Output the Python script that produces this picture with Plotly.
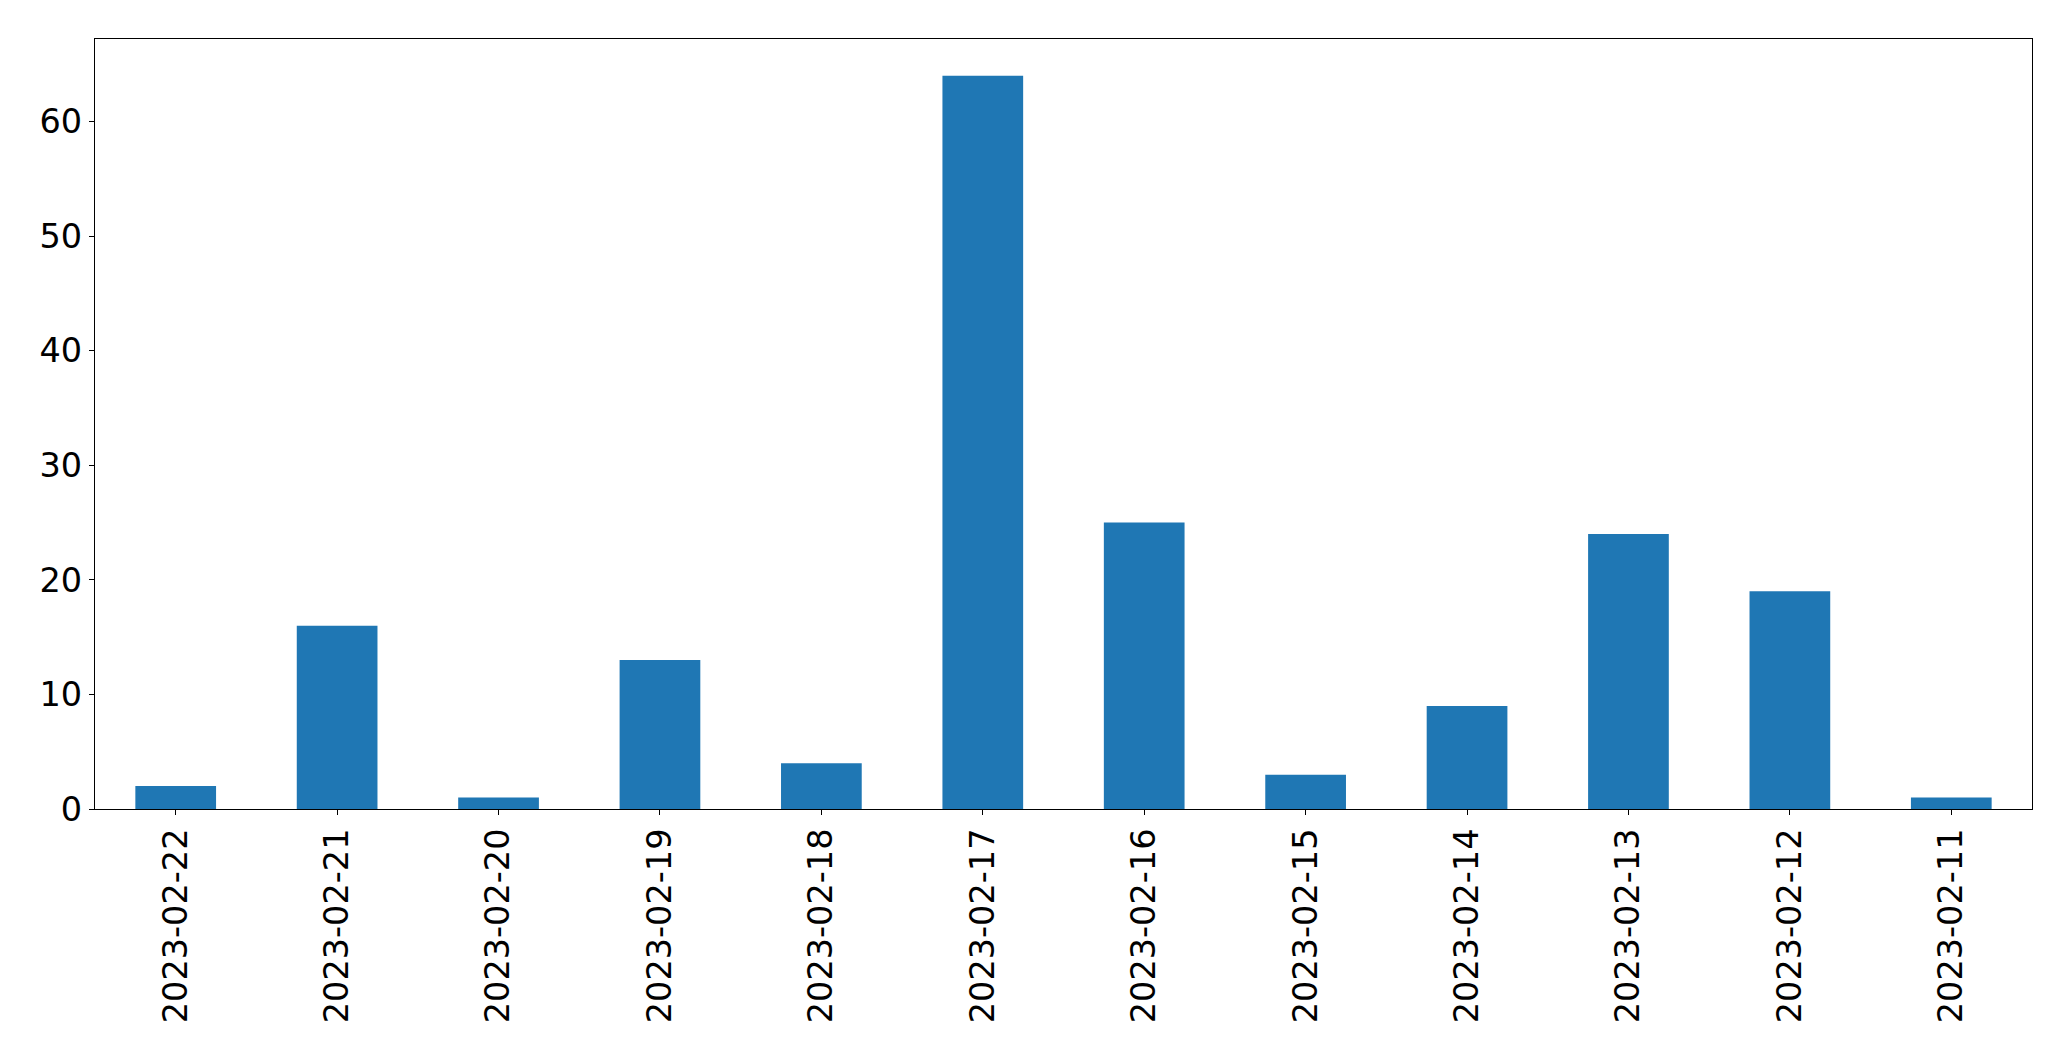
import plotly.graph_objects as go

dates = ["2023-02-22", "2023-02-21", "2023-02-20", "2023-02-19", "2023-02-18", "2023-02-17",
         "2023-02-16", "2023-02-15", "2023-02-14", "2023-02-13", "2023-02-12", "2023-02-11"]
counts = [2, 16, 1, 13, 4, 64, 25, 3, 9, 24, 19, 1]
y_ticks = [0, 10, 20, 30, 40, 50, 60]

fig = go.Figure(go.Bar(x=dates, y=counts, width=0.5, marker=dict(color="#1f77b4", line=dict(width=0))))

font = dict(family="DejaVu Sans", size=33.5, color="black")
fig.update_layout(
    width=2071, height=1061,
    margin=dict(l=95, r=39, t=39, b=252, pad=0),
    paper_bgcolor="white", plot_bgcolor="white",
    showlegend=False,
    font=font,
)
fig.update_xaxes(
    type="category", range=[-0.5, len(dates) - 0.5],
    tickangle=-90, ticks="outside", ticklen=5, tickwidth=1.3, tickcolor="black",
    showline=True, linecolor="black", linewidth=1.3, mirror=True,
    showgrid=False, zeroline=False, tickfont=font,
)
fig.update_yaxes(
    range=[0, max(counts) * 1.05], tickvals=y_ticks,
    ticks="outside", ticklen=5, tickwidth=1.3, tickcolor="black",
    showline=True, linecolor="black", linewidth=1.3, mirror=True,
    showgrid=False, zeroline=False, tickfont=font,
)
fig.write_html(
    "out.html",
    config={"displayModeBar": False},
    post_script="document.body.style.margin='0px';document.body.style.overflow='hidden';",
)
